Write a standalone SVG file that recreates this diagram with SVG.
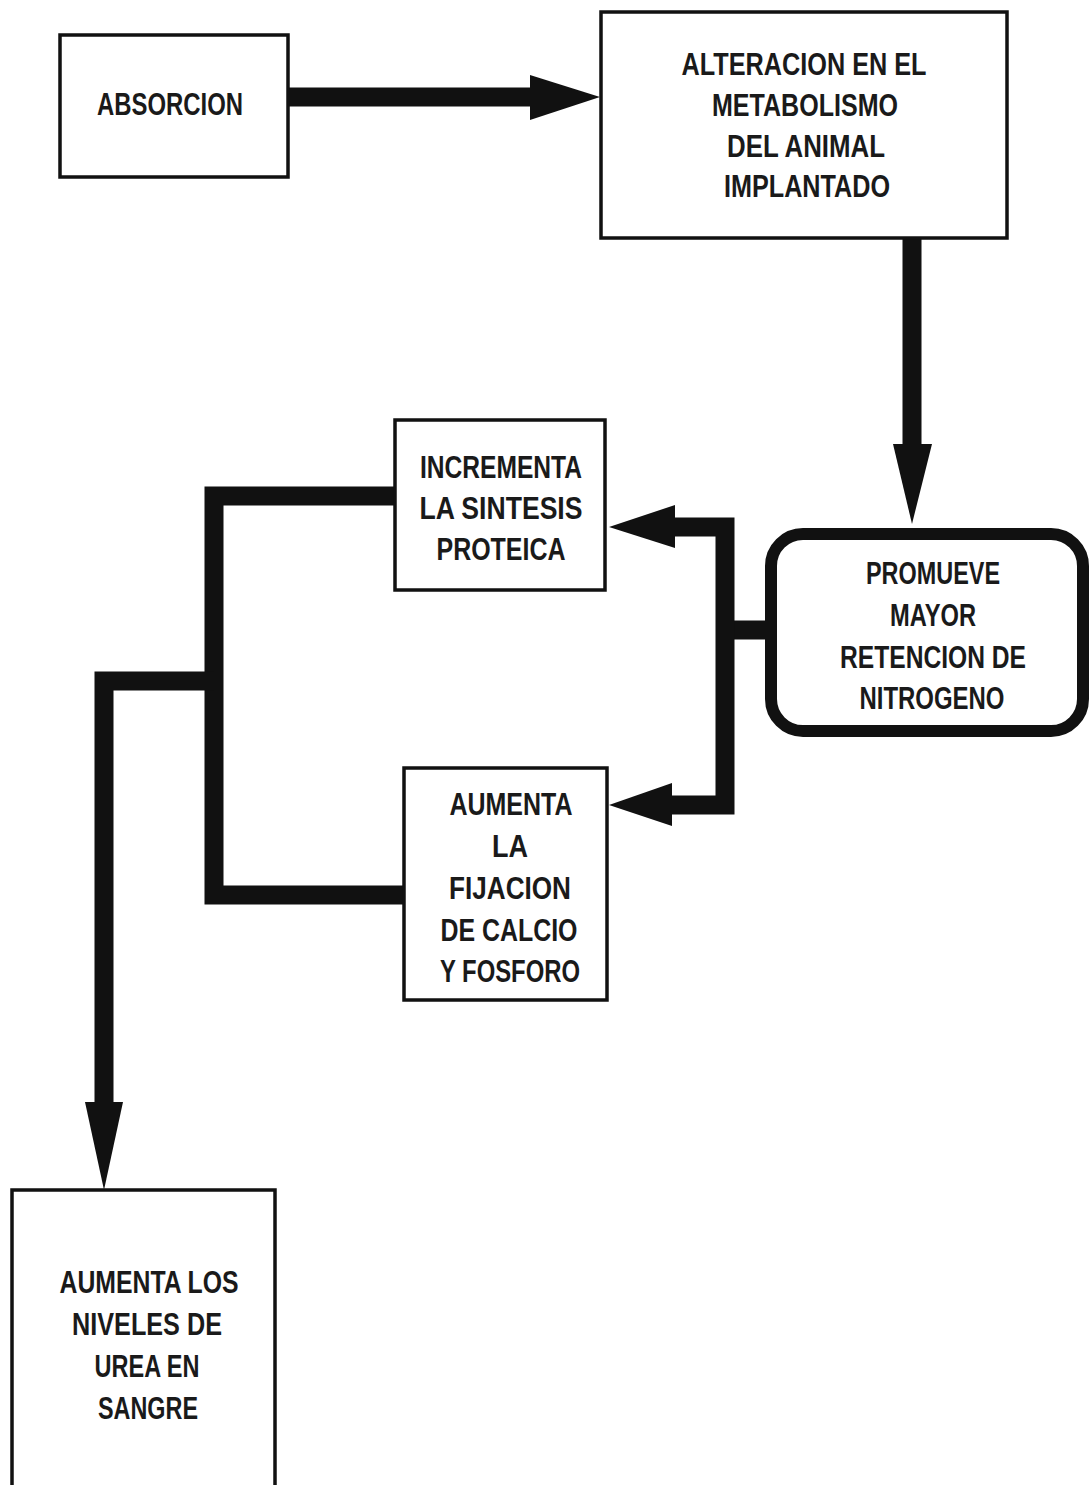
<svg xmlns="http://www.w3.org/2000/svg" width="1091" height="1485" viewBox="0 0 1091 1485">
<style>
.box{fill:#fff;stroke:#111;stroke-width:3.5}
.rbox{fill:#fff;stroke:#111;stroke-width:12}
.t{font-family:"Liberation Sans",Arial,sans-serif;font-size:31px;font-weight:bold;fill:#1a1a1a;text-anchor:middle}
.ln{fill:none;stroke:#111;stroke-width:19;stroke-linejoin:miter;stroke-linecap:butt}
.ah{fill:#111}
</style>
<rect width="1091" height="1485" fill="#fff"/>
<g id="connectors">
<path class="ln" d="M288 97 H540"/>
<polygon class="ah" points="530,75 600,97 530,120"/>
<path class="ln" d="M912 238 V450"/>
<polygon class="ah" points="893,444 932,444 912,524"/>
<path class="ln" d="M765 630 H725"/>
<path class="ln" d="M670 527 H725 V805 H668"/>
<polygon class="ah" points="675,505 609,527 675,548"/>
<polygon class="ah" points="672,783 609,805 672,826"/>
<path class="ln" d="M395 496 H214 V895 H404"/>
<path class="ln" d="M214 681 H104 V1110"/>
<polygon class="ah" points="85,1102 123,1102 104,1190"/>
</g>
<g id="n-absorcion">
<rect class="box" x="60" y="35" width="228" height="142"/>
<text class="t" x="170" y="115" textLength="146" lengthAdjust="spacingAndGlyphs">ABSORCION</text>
</g>
<g id="n-alteracion">
<rect class="box" x="601" y="12" width="406" height="226"/>
<text class="t" x="804" y="75" textLength="245" lengthAdjust="spacingAndGlyphs">ALTERACION EN EL</text>
<text class="t" x="805" y="116" textLength="186" lengthAdjust="spacingAndGlyphs">METABOLISMO</text>
<text class="t" x="806" y="157" textLength="158" lengthAdjust="spacingAndGlyphs">DEL ANIMAL</text>
<text class="t" x="807" y="197" textLength="166" lengthAdjust="spacingAndGlyphs">IMPLANTADO</text>
</g>
<g id="n-promueve">
<rect class="rbox" x="771" y="534" width="312" height="197" rx="32" ry="32"/>
<text class="t" x="933" y="584" textLength="134" lengthAdjust="spacingAndGlyphs">PROMUEVE</text>
<text class="t" x="933" y="626" textLength="86" lengthAdjust="spacingAndGlyphs">MAYOR</text>
<text class="t" x="933" y="668" textLength="186" lengthAdjust="spacingAndGlyphs">RETENCION DE</text>
<text class="t" x="932" y="709" textLength="145" lengthAdjust="spacingAndGlyphs">NITROGENO</text>
</g>
<g id="n-incrementa">
<rect class="box" x="395" y="420" width="210" height="170"/>
<text class="t" x="501" y="478" textLength="162" lengthAdjust="spacingAndGlyphs">INCREMENTA</text>
<text class="t" x="501" y="519" textLength="163" lengthAdjust="spacingAndGlyphs">LA SINTESIS</text>
<text class="t" x="501" y="560" textLength="129" lengthAdjust="spacingAndGlyphs">PROTEICA</text>
</g>
<g id="n-aumenta-fijacion">
<rect class="box" x="404" y="768" width="203" height="232"/>
<text class="t" x="511" y="815" textLength="123" lengthAdjust="spacingAndGlyphs">AUMENTA</text>
<text class="t" x="510" y="857" textLength="36" lengthAdjust="spacingAndGlyphs">LA</text>
<text class="t" x="510" y="899" textLength="122" lengthAdjust="spacingAndGlyphs">FIJACION</text>
<text class="t" x="509" y="941" textLength="137" lengthAdjust="spacingAndGlyphs">DE CALCIO</text>
<text class="t" x="510" y="982" textLength="140" lengthAdjust="spacingAndGlyphs">Y FOSFORO</text>
</g>
<g id="n-urea">
<rect class="box" x="12" y="1190" width="263" height="300"/>
<text class="t" x="149" y="1293" textLength="179" lengthAdjust="spacingAndGlyphs">AUMENTA LOS</text>
<text class="t" x="147" y="1335" textLength="150" lengthAdjust="spacingAndGlyphs">NIVELES DE</text>
<text class="t" x="147" y="1377" textLength="105" lengthAdjust="spacingAndGlyphs">UREA EN</text>
<text class="t" x="148" y="1419" textLength="100" lengthAdjust="spacingAndGlyphs">SANGRE</text>
</g>
</svg>
